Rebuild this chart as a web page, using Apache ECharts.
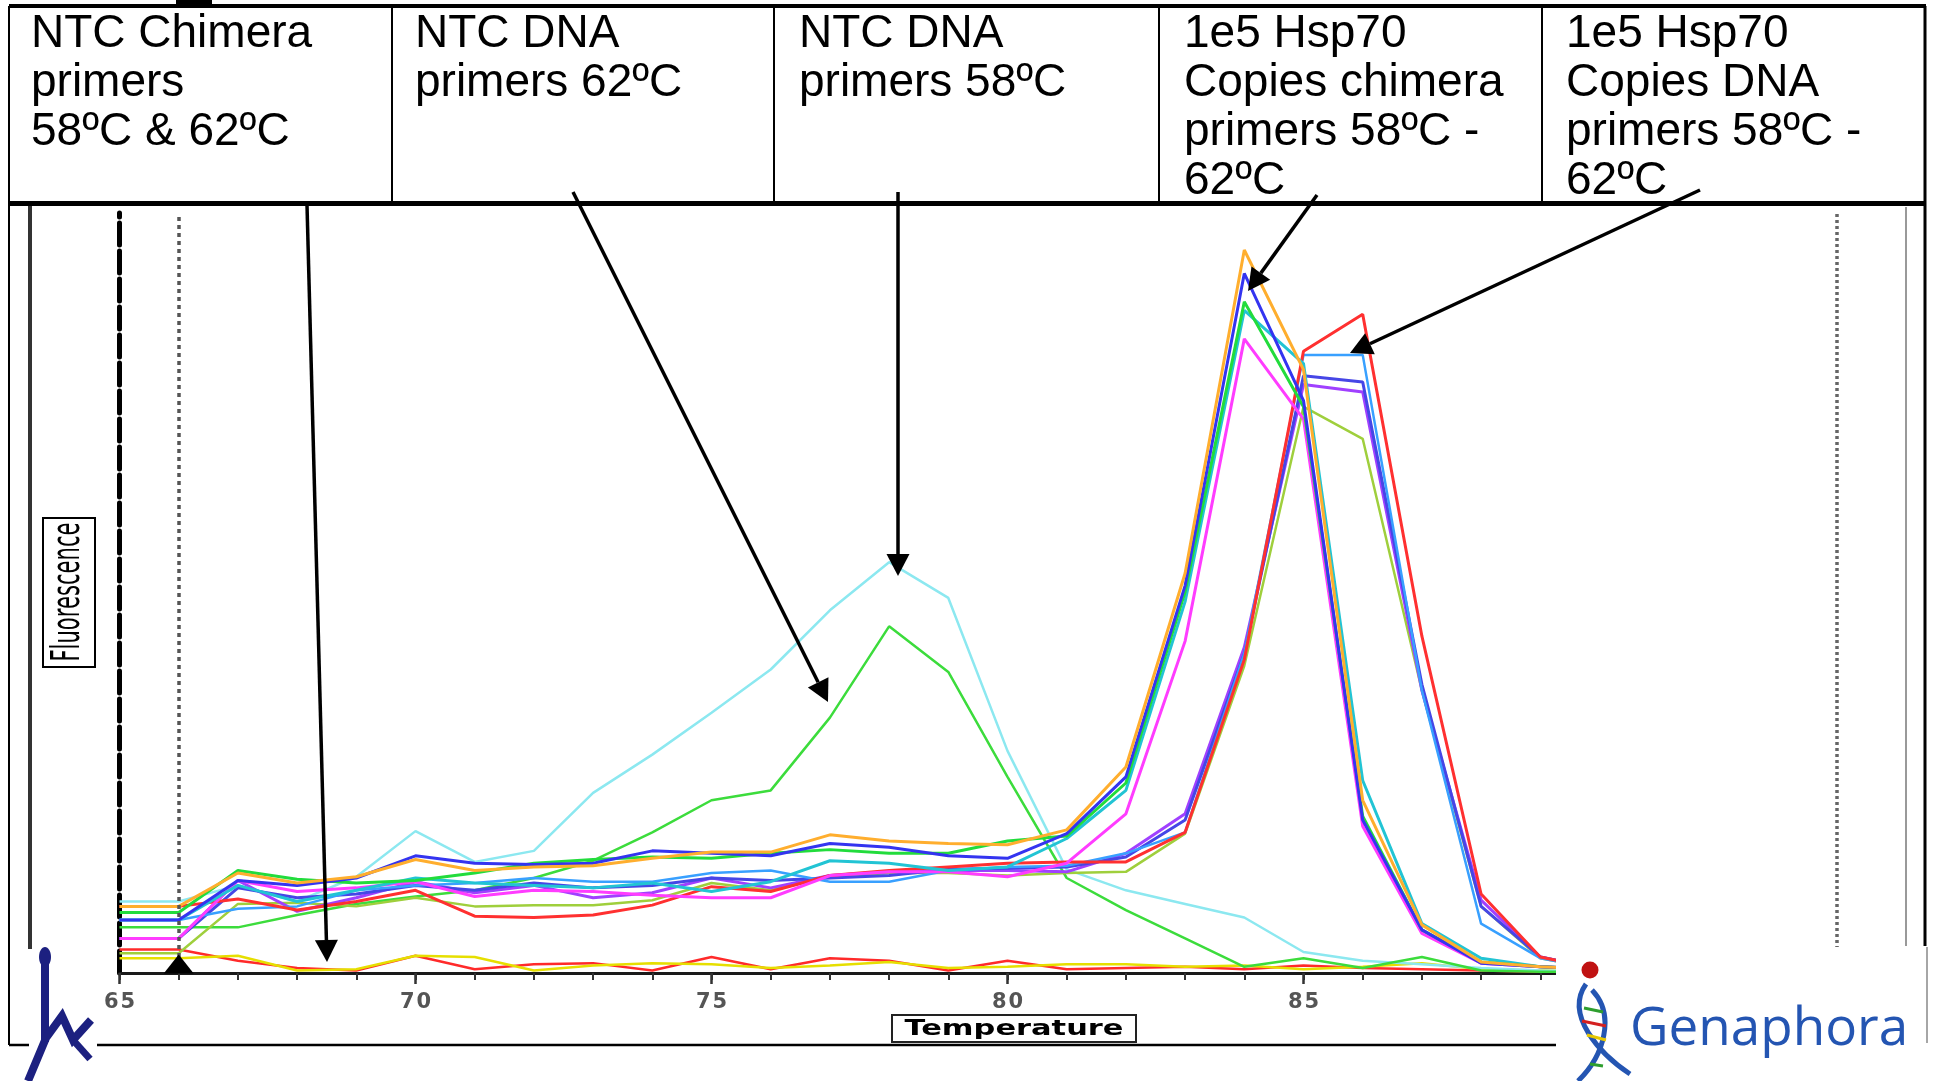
<!DOCTYPE html>
<html>
<head>
<meta charset="utf-8">
<title>Melt curve - Hsp70 primers</title>
<script src="https://cdn.jsdelivr.net/npm/echarts@6/dist/echarts.min.js"></script>
<style>
	html, body { margin: 0; padding: 0; background: #fff; }
	#chart-area { width: 1933px; height: 1081px; }
</style>
</head>
<body>
<div id="chart-area"></div>
<script>
// temperatures (deg C), one reading per degree
var temps = [65,66,67,68,69,70,71,72,73,74,75,76,77,78,79,80,81,82,83,84,85,86,87,88,89,90];

// 1e5 Hsp70 copies, chimera primers (peak ~84)
var chimOrange  = [54,54,81,73,78,92,83,86,87,93,98,98,112,107,105,104,116,167,324,586,489,140,39,9,5,3];
var chimBlue    = [43,43,75,71,77,95,89,88,89,99,97,95,105,102,95,93,113,159,314,567,464,124,35,8,5,3];
var chimGreen   = [49,49,83,76,73,75,81,89,92,94,93,97,100,97,97,107,111,154,309,544,459,127,35,9,5,3];
var chimTeal    = [43,43,71,58,67,77,73,71,69,73,66,74,91,89,83,86,109,148,301,537,494,156,40,12,5,3];
var chimMagenta = [28,28,75,66,69,74,62,67,66,63,61,61,79,82,82,78,89,129,269,514,449,119,32,8,5,3];

// 1e5 Hsp70 copies, DNA primers (peak ~86)
var dnaRed      = [54,54,60,51,58,67,46,45,47,55,70,66,79,83,86,89,90,90,114,254,504,534,273,64,13,3];
var dnaLtBlue   = [43,43,52,54,67,71,73,77,74,74,81,83,74,74,83,86,87,97,114,259,501,501,229,40,12,3];
var dnaPurple   = [28,28,75,50,61,74,65,71,61,65,77,69,79,82,83,83,82,97,129,264,477,471,229,59,13,3];
var dnaYlGreen  = [16,16,56,57,54,61,54,55,55,59,73,67,78,81,81,79,81,82,113,249,459,433,229,54,12,3];
var dnaBlue     = [28,28,69,61,64,71,67,73,69,71,77,75,77,79,84,85,86,94,124,259,484,479,234,54,13,3];

// no template controls
var ntcDna58    = [58,58,71,58,78,115,90,99,146,177,211,246,294,333,304,180,84,67,56,45,17,10,7,4,2,1];
var ntcDna62    = [37,37,37,47,56,62,67,77,91,114,140,148,207,281,244,159,77,51,28,5,12,4,13,2,1,1];
var ntcChimRed  = [19,19,10,4,2,14,3,7,8,2,13,3,12,10,2,10,3,4,5,3,6,4,3,2,1,1];
var ntcChimYel  = [12,12,14,2,3,14,13,2,6,8,7,4,6,9,4,5,7,7,5,6,3,5,8,3,2,1];

var xMin = 65, xMax = 94;
var xLabels = [65,70,75,80,85,90];

var curves = [
	{name:'NTC chimera A', data:ntcChimRed, color:'#ff2a2a', w:2.5},
	{name:'NTC chimera B', data:ntcChimYel, color:'#e6df00', w:2.5},
	{name:'NTC DNA 58', data:ntcDna58, color:'#8ce8f0', w:2.5},
	{name:'NTC DNA 62', data:ntcDna62, color:'#3cdc3c', w:2.5},
	{name:'DNA yellow-green', data:dnaYlGreen, color:'#9fcf3c', w:2.5},
	{name:'DNA purple', data:dnaPurple, color:'#a040ff', w:3},
	{name:'DNA blue', data:dnaBlue, color:'#4646e6', w:3},
	{name:'DNA light blue', data:dnaLtBlue, color:'#38a0ff', w:2.5},
	{name:'DNA red', data:dnaRed, color:'#ff3030', w:3},
	{name:'Chimera magenta', data:chimMagenta, color:'#ff3cff', w:3},
	{name:'Chimera teal', data:chimTeal, color:'#22c4d4', w:3},
	{name:'Chimera green', data:chimGreen, color:'#22dc3c', w:3},
	{name:'Chimera blue', data:chimBlue, color:'#3434f0', w:3},
	{name:'Chimera orange', data:chimOrange, color:'#ffae2e', w:3}
];

function pairs(arr){
	var out = [];
	for (var i = 0; i < temps.length; i++) out.push([temps[i], arr[i]]);
	return out;
}

var series = [];
for (var i = 0; i < curves.length; i++) {
	series.push({
		name: curves[i].name,
		type: 'line',
		data: pairs(curves[i].data),
		symbol: 'none',
		smooth: false,
		silent: true,
		lineStyle: {color: curves[i].color, width: curves[i].w},
		itemStyle: {color: curves[i].color},
		z: 3
	});
}
// dotted limit lines and start marker
series.push({
	name: 'guides',
	type: 'line',
	data: [],
	silent: true,
	z: 4,
	markLine: {
		symbol: ['none','none'],
		silent: true,
		label: {show: false},
		data: [
			{xAxis: 66, lineStyle: {color:'#555', width:3.5, type:[4,4]}},
			{xAxis: 94, lineStyle: {color:'#666', width:3.5, type:[3,3]}}
		]
	},
	markPoint: {
		symbol: 'triangle',
		symbolSize: [30, 19],
		symbolOffset: [0, -9],
		label: {show: false},
		itemStyle: {color: '#000'},
		data: [{coord: [66, 0]}]
	}
});

// ---- annotation helpers ----
function seg(x1, y1, x2, y2, w, color, z){
	return {type:'line', z: z || 10, silent:true,
		shape:{x1:x1, y1:y1, x2:x2, y2:y2},
		style:{stroke:color || '#000', lineWidth:w}};
}
function arrow(x1, y1, x2, y2){
	var dx = x2 - x1, dy = y2 - y1, len = Math.sqrt(dx*dx + dy*dy);
	var ux = dx/len, uy = dy/len, L = 22, W = 11.5;
	var bx = x2 - ux*L, by = y2 - uy*L;
	return [
		seg(x1, y1, bx, by, 3.5, '#000', 60),
		{type:'polygon', z:60, silent:true,
			shape:{points:[[x2,y2],[bx - uy*W, by + ux*W],[bx + uy*W, by - ux*W]]},
			style:{fill:'#000'}}
	];
}
function headText(x, txt){
	return {type:'text', x:x, y:10, z:20, silent:true,
		style:{text:txt, fill:'#000', fontSize:46, fontFamily:'"Liberation Sans", Arial, sans-serif',
			lineHeight:49, align:'left', verticalAlign:'top'}};
}

var g = [];
// header table
g.push({type:'rect', z:10, silent:true, shape:{x:176, y:0, width:36, height:6}, style:{fill:'#000'}});
g.push(seg(9, 6, 1926, 6, 4));
g.push(seg(9, 203.5, 1926, 203.5, 5));
g.push(seg(9, 6, 9, 1045, 2));
g.push(seg(1925, 6, 1925, 946, 3));
[392, 774, 1159, 1542].forEach(function(x){ g.push(seg(x, 6, x, 203, 2)); });
g.push(headText(31, 'NTC Chimera\nprimers\n58ºC & 62ºC'));
g.push(headText(415, 'NTC DNA\nprimers 62ºC'));
g.push(headText(799, 'NTC DNA\nprimers 58ºC'));
g.push(headText(1184, '1e5 Hsp70\nCopies chimera\nprimers 58ºC -\n62ºC'));
g.push(headText(1566, '1e5 Hsp70\nCopies DNA\nprimers 58ºC -\n62ºC'));

// chart frame
g.push(seg(30, 206, 30, 949, 4, '#333'));
g.push(seg(1906, 207, 1906, 946, 2, '#999'));
g.push(seg(9, 1045, 1556, 1045, 2.5));

// boxed axis names
g.push({type:'rect', z:20, silent:true, shape:{x:43, y:518, width:52, height:149},
	style:{fill:'#fff', stroke:'#000', lineWidth:2}});
g.push({type:'text', z:21, silent:true, x:69, y:592, rotation:Math.PI/2, scaleX:0.88, scaleY:1.65,
	style:{text:'Fluorescence', fill:'#000', fontSize:24, fontFamily:'"DejaVu Sans", sans-serif',
		align:'center', verticalAlign:'middle'}});
g.push({type:'rect', z:20, silent:true, shape:{x:892, y:1015, width:244, height:27},
	style:{fill:'#fff', stroke:'#222', lineWidth:2}});
g.push({type:'text', z:21, silent:true, x:1014, y:1029, scaleX:1.45, scaleY:1.05,
	style:{text:'Temperature', fill:'#000', fontSize:21, fontWeight:'bold', fontFamily:'"DejaVu Sans", sans-serif',
		align:'center', verticalAlign:'middle'}});

// arrows from the header to the curves
g = g.concat(arrow(307, 205, 327, 962));
g = g.concat(arrow(573, 192, 828, 702));
g = g.concat(arrow(898, 192, 898, 576));
g = g.concat(arrow(1317, 195, 1248, 291));
g = g.concat(arrow(1700, 190, 1350, 353));

// left logo
var navy = '#1c2080';
g.push({type:'rect', z:50, silent:true, shape:{x:29, y:949, width:68, height:132}, style:{fill:'#fff'}});
g.push({type:'ellipse', z:51, silent:true, shape:{cx:45, cy:957, rx:6, ry:10}, style:{fill:navy}});
g.push({type:'rect', z:51, silent:true, shape:{x:41, y:964, width:8, height:78}, style:{fill:navy}});
g.push({type:'polyline', z:51, silent:true, shape:{points:[[28,1081],[46,1038],[62,1016],[73,1040],[91,1020]]},
	style:{stroke:navy, lineWidth:8, fill:null}});
g.push({type:'polyline', z:51, silent:true, shape:{points:[[73,1040],[90,1059]]},
	style:{stroke:navy, lineWidth:7, fill:null}});

// Genaphora logo
var gblue = '#2455b2';
g.push({type:'rect', z:50, silent:true, shape:{x:1556, y:947, width:377, height:134}, style:{fill:'#fff'}});
g.push(seg(1927, 947, 1927, 1043, 1.5, '#888', 51));
g.push({type:'circle', z:51, silent:true, shape:{cx:1590, cy:970, r:8.5}, style:{fill:'#c01212'}});
g.push({type:'bezierCurve', z:51, silent:true,
	shape:{x1:1586, y1:984, cpx1:1564, cpy1:1015, cpx2:1600, cpy2:1054, x2:1630, y2:1074},
	style:{stroke:gblue, lineWidth:5, fill:null}});
g.push({type:'bezierCurve', z:51, silent:true,
	shape:{x1:1592, y1:990, cpx1:1616, cpy1:1015, cpx2:1604, cpy2:1056, x2:1578, y2:1081},
	style:{stroke:gblue, lineWidth:5, fill:null}});
g.push(seg(1584, 1008, 1603, 1012, 3, '#2e9e2e', 52));
g.push(seg(1582, 1021, 1606, 1026, 3, '#d42020', 52));
g.push(seg(1587, 1035, 1606, 1040, 3, '#e6c800', 52));
g.push(seg(1590, 1064, 1603, 1066, 3, '#2e9e2e', 52));
g.push({type:'text', z:52, silent:true, x:1630, y:1030,
	style:{text:'Genaphora', fill:gblue, fontSize:53, fontFamily:'"Open Sans", Lato, sans-serif',
		align:'left', verticalAlign:'middle'}});

var chart = echarts.init(document.getElementById('chart-area'));
var option = {
	backgroundColor: '#fff',
	animation: false,
	grid: {left: 119.5, right: 96.7, top: 213, bottom: 108},
	xAxis: [{
		type: 'value',
		min: xMin, max: xMax, interval: 1,
		axisLine: {show: true, onZero: false, lineStyle: {color: '#1a1a1a', width: 3}},
		axisTick: {show: true, length: 7, lineStyle: {color: '#333', width: 2}},
		splitLine: {show: false},
		axisLabel: {
			margin: 19,
			formatter: function(v){
				if (xLabels.indexOf(v) < 0) return '';
				return String(v).split('').map(function(c){ return '{d|' + c + '}'; }).join('');
			},
			rich: {d: {fontSize: 21, fontWeight: 'bold', color: '#555', fontFamily: '"DejaVu Sans", sans-serif', padding: [0, 1, 0, 1]}}
		}
	}, {
		type: 'value',
		position: 'bottom',
		min: xMin, max: xMax, interval: 5,
		axisLine: {show: false},
		axisTick: {show: true, length: 11, lineStyle: {color: '#333', width: 2.5}},
		axisLabel: {show: false},
		splitLine: {show: false}
	}],
	yAxis: {
		type: 'value',
		min: 0, max: 616,
		axisLine: {show: true, onZero: false, lineStyle: {color: '#000', width: 5, type: [22, 6]}},
		axisTick: {show: false},
		axisLabel: {show: false},
		splitLine: {show: false}
	},
	series: series,
	graphic: {elements: g}
};
chart.setOption(option);
</script>
</body>
</html>
